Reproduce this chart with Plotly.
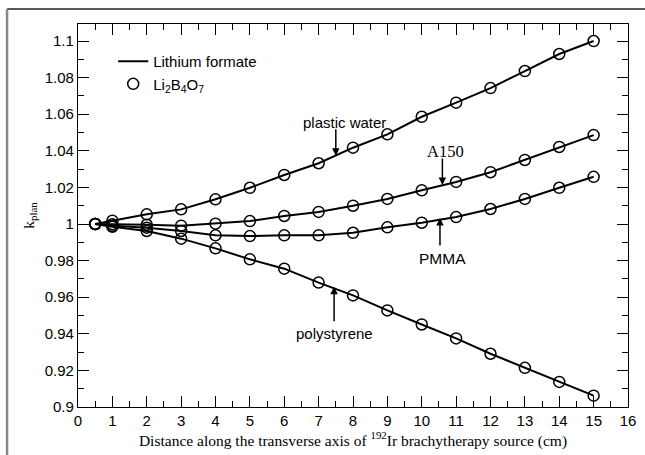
import plotly.graph_objects as go

distance = [0.5, 1, 2, 3, 4, 5, 6, 7, 8, 9, 10, 11, 12, 13, 14, 15]

plastic_water = [1.000, 1.0018, 1.0053, 1.0080, 1.0135, 1.0198, 1.0268, 1.0332,
                 1.0417, 1.0490, 1.0586, 1.0663, 1.0743, 1.0836, 1.0929, 1.1000]
a150 = [1.000, 0.9999, 0.9996, 0.9991, 1.0002, 1.0016, 1.0044, 1.0066,
        1.0100, 1.0137, 1.0184, 1.0230, 1.0283, 1.0350, 1.0421, 1.0486]
pmma = [1.000, 0.9990, 0.9980, 0.9962, 0.9938, 0.9934, 0.9938, 0.9938,
        0.9952, 0.9982, 1.0007, 1.0038, 1.0082, 1.0137, 1.0198, 1.0258]
polystyrene = [1.000, 0.9985, 0.9962, 0.9920, 0.9867, 0.9807, 0.9756, 0.9680,
               0.9610, 0.9528, 0.9451, 0.9375, 0.9291, 0.9214, 0.9137, 0.9062]

series = [plastic_water, a150, pmma, polystyrene]

x_ticks = list(range(0, 17))
y_ticks = [0.9, 0.92, 0.94, 0.96, 0.98, 1.0, 1.02, 1.04, 1.06, 1.08, 1.1]
y_tick_labels = ["0.9", "0.92", "0.94", "0.96", "0.98", "1", "1.02", "1.04", "1.06", "1.08", "1.1"]

fig = go.Figure()

for i, s in enumerate(series):
    fig.add_trace(go.Scatter(
        x=distance, y=s, mode="lines",
        line=dict(color="black", width=2),
        name="Lithium formate", showlegend=(i == 0), legendrank=1,
    ))
for i, s in enumerate(series):
    fig.add_trace(go.Scatter(
        x=distance, y=s, mode="markers",
        marker=dict(symbol="circle-open", size=11, color="black", line=dict(width=1.5, color="black")),
        name="Li<sub>2</sub>B<sub>4</sub>O<sub>7</sub>", showlegend=(i == 0), legendrank=2,
    ))

sans = "Liberation Sans, Arial, sans-serif"
serif = "Liberation Serif, Times New Roman, serif"

axis_common = dict(
    showline=True, linecolor="black", linewidth=1.2, mirror="ticks",
    ticks="inside", ticklen=11, tickwidth=1.2, tickcolor="black",
    showgrid=False, zeroline=False, automargin=False,
    tickfont=dict(family=sans, size=15, color="black"),
)

fig.update_xaxes(
    range=[0, 16], tickvals=x_ticks,
    minor=dict(ticks="inside", ticklen=6, tickwidth=1.2, tickcolor="black", dtick=0.5, showgrid=False),
    title=dict(text="Distance along the transverse axis of <sup>192</sup>Ir brachytherapy source (cm)",
               font=dict(family=serif, size=15.5, color="black"), standoff=6),
    **axis_common,
)
fig.update_yaxes(
    range=[0.9, 1.1093], tickvals=y_ticks, ticktext=y_tick_labels,
    minor=dict(ticks="inside", ticklen=6, tickwidth=1.2, tickcolor="black", dtick=0.01, showgrid=False),
    title=dict(text="k<sub>plan</sub>", font=dict(family=serif, size=15.5, color="black"), standoff=6),
    **axis_common,
)

arrow = dict(showarrow=True, arrowhead=2, arrowsize=1, arrowwidth=1.5, arrowcolor="black",
             text="", axref="pixel", ayref="pixel")
annotations = [
    dict(x=7.5, y=1.0373, ax=0, ay=-28, **arrow),
    dict(x=10.6, y=1.0213, ax=0, ay=-28, **arrow),
    dict(x=10.53, y=1.0033, ax=0, ay=29, **arrow),
    dict(x=7.45, y=0.9657, ax=0, ay=36, **arrow),
    dict(x=7.74, y=1.0557, text="plastic water", showarrow=False,
         font=dict(family=sans, size=15, color="black")),
    dict(x=10.69, y=1.0399, text="A150", showarrow=False,
         font=dict(family=serif, size=16.5, color="black")),
    dict(x=10.59, y=0.9814, text="PMMA", showarrow=False,
         font=dict(family=sans, size=15.5, color="black")),
    dict(x=7.45, y=0.9404, text="polystyrene", showarrow=False,
         font=dict(family=sans, size=15, color="black")),
]

shapes = [
    dict(type="line", xref="paper", yref="paper", x0=-0.129, x1=1.04, y0=1.0392, y1=1.0392,
         line=dict(color="#222222", width=1.5)),
    dict(type="line", xref="paper", yref="paper", x0=-0.129, x1=-0.129, y0=1.0392, y1=-0.13,
         line=dict(color="#888888", width=2.5)),
]

fig.update_layout(
    width=645, height=455,
    margin=dict(l=78, r=17, t=24, b=48, autoexpand=False),
    paper_bgcolor="white", plot_bgcolor="white",
    font=dict(family=sans, size=15, color="black"),
    annotations=annotations,
    shapes=shapes,
    legend=dict(x=0.064, y=0.945, xanchor="left", yanchor="top",
                bgcolor="rgba(0,0,0,0)", font=dict(family=sans, size=15, color="black"),
                itemwidth=30, tracegroupgap=0),
    showlegend=True,
)

fig.write_html("out.html", config={"displayModeBar": False},
               post_script="document.body.style.margin='0';document.body.style.overflow='hidden';")
